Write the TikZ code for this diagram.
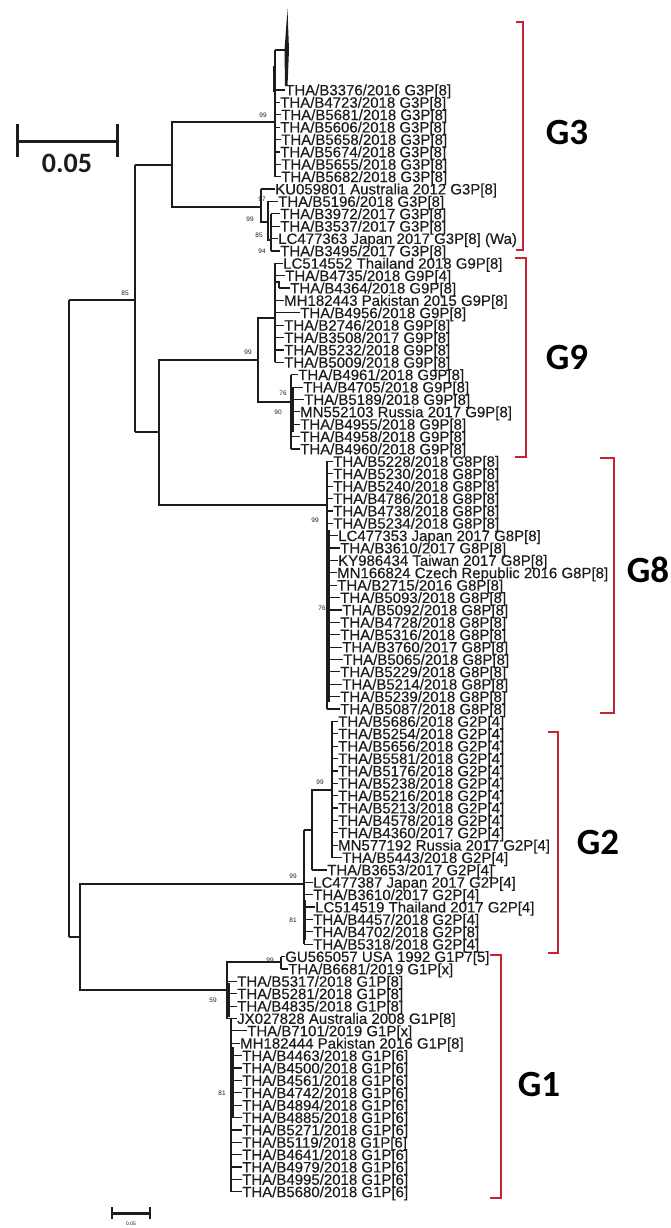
\documentclass[tikz,border=0pt]{standalone}
\usepackage{fontspec}
\setmainfont{Liberation Sans}
\newfontfamily\leaffont[FakeBold=0.35]{Liberation Sans}
\newfontfamily\carlito{Carlito}
\definecolor{ink}{HTML}{1C1C1C}
\definecolor{brk}{HTML}{C42531}
\newcommand\leafnode[5]{%
  \coordinate (#1p) at (#5,{90+12.38*#2});
  \node[leaf] (#1) at (#3,{95.35+12.38*#2}) {#4};
  \draw[tick] (#1p) -- (#1p -| #1.west);
}
\begin{document}
\begin{tikzpicture}[x=1pt,y=-1pt,
  br/.style={draw=ink,line width=1.6pt},
  thk/.style={draw=ink,line width=3pt},
  tick/.style={draw=ink,line width=1.2pt},
  leaf/.style={anchor=base west,inner sep=0pt,text=ink,text height=10.6pt,text depth=1.2pt,font=\leaffont\fontsize{15}{15}\selectfont},
  bs/.style={inner sep=0pt,text=ink,font=\fontsize{6.5}{6.5}\selectfont},
  grp/.style={anchor=base,inner sep=0pt,text=black,font=\carlito\bfseries\fontsize{37}{37}\selectfont},
  brack/.style={draw=brk,line width=2.2pt}]
\useasboundingbox (0,0) rectangle (670,1228);

% ---------- backbone ----------
\draw[br] (69,300) -- (69,937);
\draw[br] (69,300) -- (135,300);
\draw[br] (69,937) -- (80,937);
\draw[br] (135,165) -- (135,432);
\draw[br] (275,122) -| (172,207) -- (261,207);
\draw[br] (135,165) -- (172,165);
\draw[br] (135,432) -- (159,432);
\draw[br] (258,360) -| (159,505) -- (327,505);
\draw[br] (304,884) -| (80,990) -- (227,990);

% ---------- G3 ----------
\draw[br] (275,50) -- (275,176.7);
\draw[thk] (274,66) -- (274,92);
\draw[br] (275,50) -- (285,50);
\fill[ink] (284.5,50) -- (287.5,9) -- (289,50) -- (287.5,86) -- (285,86) -- cycle;
\draw[br] (261,189) -- (261,222) -- (268,222);
\draw[br] (268,201.4) -- (268,240) -- (271,240);
\draw[br,line width=2.4pt] (271,213.8) -- (271,251);

\leafnode{a0}{0}{285}{THA/B3376/2016 G3P[8]}{275}
\leafnode{a1}{1}{280}{THA/B4723/2018 G3P[8]}{275}
\leafnode{a2}{2}{281}{THA/B5681/2018 G3P[8]}{275}
\leafnode{a3}{3}{280}{THA/B5606/2018 G3P[8]}{275}
\leafnode{a4}{4}{281}{THA/B5658/2018 G3P[8]}{275}
\leafnode{a5}{5}{280}{THA/B5674/2018 G3P[8]}{275}
\leafnode{a6}{6}{281}{THA/B5655/2018 G3P[8]}{275}
\leafnode{a7}{7}{281}{THA/B5682/2018 G3P[8]}{275}
\leafnode{a8}{8}{275}{KU059801 Australia 2012 G3P[8]}{261}
\leafnode{a9}{9}{278}{THA/B5196/2018 G3P[8]}{268}
\leafnode{a10}{10}{280}{THA/B3972/2017 G3P[8]}{271}
\leafnode{a11}{11}{280}{THA/B3537/2017 G3P[8]}{271}
\leafnode{a12}{12}{278}{LC477363 Japan 2017 G3P[8] (Wa)}{271}
\leafnode{a13}{13}{280}{THA/B3495/2017 G3P[8]}{271}

% ---------- G9 ----------
\draw[br] (275,318) -| (258,402) -- (291,402);
\draw[br] (275,263.3) -- (275,362.4);
\draw[br,line width=2.6pt] (275,263.3) -- (275,300);
\draw[tick] (276,282) -- (279,282) -- (279,288.1);
\draw[br] (291,374.7) -- (291,449);
\draw[br,line width=3.2pt] (292,388) -- (292,432);

\leafnode{b14}{14}{283}{LC514552 Thailand 2018 G9P[8]}{275}
\leafnode{b15}{15}{285}{THA/B4735/2018 G9P[4]}{275}
\leafnode{b16}{16}{290}{THA/B4364/2018 G9P[8]}{279}
\leafnode{b17}{17}{284}{MH182443 Pakistan 2015 G9P[8]}{275}
\leafnode{b18}{18}{300}{THA/B4956/2018 G9P[8]}{275}
\leafnode{b19}{19}{284}{THA/B2746/2018 G9P[8]}{275}
\leafnode{b20}{20}{284}{THA/B3508/2017 G9P[8]}{275}
\leafnode{b21}{21}{284}{THA/B5232/2018 G9P[8]}{275}
\leafnode{b22}{22}{284}{THA/B5009/2018 G9P[8]}{275}
\leafnode{b23}{23}{298}{THA/B4961/2018 G9P[8]}{291}
\leafnode{b24}{24}{303}{THA/B4705/2018 G9P[8]}{291}
\leafnode{b25}{25}{304}{THA/B5189/2018 G9P[8]}{291}
\leafnode{b26}{26}{300}{MN552103 Russia 2017 G9P[8]}{291}
\leafnode{b27}{27}{300}{THA/B4955/2018 G9P[8]}{291}
\leafnode{b28}{28}{300}{THA/B4958/2018 G9P[8]}{291}
\leafnode{b29}{29}{300}{THA/B4960/2018 G9P[8]}{291}

% ---------- G8 ----------
\draw[br] (327,461.4) -- (327,709);
\draw[br,line width=2.8pt] (329,530) -- (329,702);

\leafnode{c30}{30}{333}{THA/B5228/2018 G8P[8]}{327}
\leafnode{c31}{31}{333}{THA/B5230/2018 G8P[8]}{327}
\leafnode{c32}{32}{333}{THA/B5240/2018 G8P[8]}{327}
\leafnode{c33}{33}{333}{THA/B4786/2018 G8P[8]}{327}
\leafnode{c34}{34}{333}{THA/B4738/2018 G8P[8]}{327}
\leafnode{c35}{35}{333}{THA/B5234/2018 G8P[8]}{327}
\leafnode{c36}{36}{338}{LC477353 Japan 2017 G8P[8]}{327}
\leafnode{c37}{37}{340}{THA/B3610/2017 G8P[8]}{327}
\leafnode{c38}{38}{338}{KY986434 Taiwan 2017 G8P[8]}{327}
\leafnode{c39}{39}{337}{MN166824 Czech Republic 2016 G8P[8]}{327}
\leafnode{c40}{40}{337}{THA/B2715/2016 G8P[8]}{327}
\leafnode{c41}{41}{340}{THA/B5093/2018 G8P[8]}{327}
\leafnode{c42}{42}{342}{THA/B5092/2018 G8P[8]}{327}
\leafnode{c43}{43}{340}{THA/B4728/2018 G8P[8]}{327}
\leafnode{c44}{44}{340}{THA/B5316/2018 G8P[8]}{327}
\leafnode{c45}{45}{342}{THA/B3760/2017 G8P[8]}{327}
\leafnode{c46}{46}{343}{THA/B5065/2018 G8P[8]}{327}
\leafnode{c47}{47}{340}{THA/B5229/2018 G8P[8]}{327}
\leafnode{c48}{48}{342}{THA/B5214/2018 G8P[8]}{327}
\leafnode{c49}{49}{340}{THA/B5239/2018 G8P[8]}{327}
\leafnode{c50}{50}{340}{THA/B5087/2018 G8P[8]}{327}

% ---------- G2 ----------
\draw[br] (304,830) -- (304,944.2);
\draw[br,line width=2.6pt] (305,900) -- (305,940);
\draw[br] (304,830) -- (312,830);
\draw[br] (332,790) -| (312,869.9);
\draw[br] (332,721.4) -- (332,857.6);

\leafnode{d51}{51}{338}{THA/B5686/2018 G2P[4]}{332}
\leafnode{d52}{52}{338}{THA/B5254/2018 G2P[4]}{332}
\leafnode{d53}{53}{338}{THA/B5656/2018 G2P[4]}{332}
\leafnode{d54}{54}{338}{THA/B5581/2018 G2P[4]}{332}
\leafnode{d55}{55}{338}{THA/B5176/2018 G2P[4]}{332}
\leafnode{d56}{56}{338}{THA/B5238/2018 G2P[4]}{332}
\leafnode{d57}{57}{338}{THA/B5216/2018 G2P[4]}{332}
\leafnode{d58}{58}{338}{THA/B5213/2018 G2P[4]}{332}
\leafnode{d59}{59}{338}{THA/B4578/2018 G2P[4]}{332}
\leafnode{d60}{60}{338}{THA/B4360/2017 G2P[4]}{332}
\leafnode{d61}{61}{338}{MN577192 Russia 2017 G2P[4]}{332}
\leafnode{d62}{62}{342}{THA/B5443/2018 G2P[4]}{332}
\leafnode{d63}{63}{327}{THA/B3653/2017 G2P[4]}{312}
\leafnode{d64}{64}{313}{LC477387 Japan 2017 G2P[4]}{304}
\leafnode{d65}{65}{313}{THA/B3610/2017 G2P[4]}{304}
\leafnode{d66}{66}{315}{LC514519 Thailand 2017 G2P[4]}{304}
\leafnode{d67}{67}{313}{THA/B4457/2018 G2P[4]}{304}
\leafnode{d68}{68}{313}{THA/B4702/2018 G2P[8]}{304}
\leafnode{d69}{69}{313}{THA/B5318/2018 G2P[4]}{304}

% ---------- G1 ----------
\draw[br] (281,962) -| (227,1018.5) -| (231,1191.8);
\draw[thk] (228.5,983) -- (228.5,1017);
\draw[br,line width=4pt] (232,1047) -- (232,1117);
\draw[br] (281,956.6) -- (281,969);

\leafnode{e70}{70}{285}{GU565057 USA 1992 G1P7[5]}{281}
\leafnode{e71}{71}{288}{THA/B6681/2019 G1P[x]}{281}
\leafnode{e72}{72}{237}{THA/B5317/2018 G1P[8]}{227}
\leafnode{e73}{73}{237}{THA/B5281/2018 G1P[8]}{227}
\leafnode{e74}{74}{237}{THA/B4835/2018 G1P[8]}{227}
\leafnode{e75}{75}{237}{JX027828 Australia 2008 G1P[8]}{227}
\leafnode{e76}{76}{247}{THA/B7101/2019 G1P[x]}{231}
\leafnode{e77}{77}{240}{MH182444 Pakistan 2016 G1P[8]}{231}
\leafnode{e78}{78}{242}{THA/B4463/2018 G1P[6]}{231}
\leafnode{e79}{79}{242}{THA/B4500/2018 G1P[6]}{231}
\leafnode{e80}{80}{242}{THA/B4561/2018 G1P[6]}{231}
\leafnode{e81}{81}{242}{THA/B4742/2018 G1P[6]}{231}
\leafnode{e82}{82}{242}{THA/B4894/2018 G1P[6]}{231}
\leafnode{e83}{83}{242}{THA/B4885/2018 G1P[6]}{231}
\leafnode{e84}{84}{242}{THA/B5271/2018 G1P[6]}{231}
\leafnode{e85}{85}{242}{THA/B5119/2018 G1P[6]}{231}
\leafnode{e86}{86}{242}{THA/B4641/2018 G1P[6]}{231}
\leafnode{e87}{87}{242}{THA/B4979/2018 G1P[6]}{231}
\leafnode{e88}{88}{242}{THA/B4995/2018 G1P[6]}{231}
\leafnode{e89}{89}{242}{THA/B5680/2018 G1P[6]}{231}

% ---------- bootstrap values ----------
\node[bs] (s1) at (263,115) {99};
\node[bs] (s2) at (262,199) {97};
\node[bs] (s3) at (250,219) {99};
\node[bs] (s4) at (259,235) {85};
\node[bs] (s5) at (262,251) {94};
\node[bs] (s6) at (125,293) {85};
\node[bs] (s7) at (248,352) {99};
\node[bs] (s8) at (283,393) {76};
\node[bs] (s9) at (278,412) {90};
\node[bs] (s10) at (315,520) {99};
\node[bs] (s11) at (322,608) {76};
\node[bs] (s12) at (320,782) {99};
\node[bs] (s13) at (293,876) {99};
\node[bs] (s14) at (293,920) {81};
\node[bs] (s15) at (270,960) {99};
\node[bs] (s16) at (213,1000) {59};
\node[bs] (s17) at (222,1093) {81};

% ---------- scale bars ----------
\coordinate (sbl) at (17,141);
\coordinate (sbr) at (117,141);
\draw[ink,line width=3pt] (sbl) -- (sbr);
\draw[ink,line width=3pt] ([yshift=-16pt]sbl) -- ([yshift=17pt]sbl);
\draw[ink,line width=3pt] ([yshift=-16pt]sbr) -- ([yshift=17pt]sbr);
\node[anchor=base,inner sep=0pt,text=ink,font=\carlito\bfseries\fontsize{28}{28}\selectfont] (sbt) at (67,172) {0.05};

\coordinate (sb2l) at (112,1213);
\coordinate (sb2r) at (150,1213);
\draw[ink,line width=3pt] (sb2l) -- (sb2r);
\draw[ink,line width=2.5pt] ([yshift=-6pt]sb2l) -- ([yshift=6pt]sb2l);
\draw[ink,line width=2.5pt] ([yshift=-6pt]sb2r) -- ([yshift=6pt]sb2r);
\node[inner sep=0pt,text=ink,font=\fontsize{5}{5}\selectfont] (sb2t) at (131,1224) {0.05};

% ---------- group brackets ----------
\draw[brack] (516,22) -- (523,22) -- (523,250) -- (516,250);
\draw[brack] (515,258) -- (526,258) -- (526,457) -- (515,457);
\draw[brack] (600,458) -- (614,458) -- (614,713) -- (600,713);
\draw[brack] (548,732) -- (558,732) -- (558,953) -- (548,953);
\draw[brack] (490,955) -- (501,955) -- (501,1198) -- (490,1198);

\node[grp] (g3) at (567,144) {G3};
\node[grp] (g9) at (567,369) {G9};
\node[grp] (g8) at (648,582) {G8};
\node[grp] (g2) at (598,854) {G2};
\node[grp] (g1) at (539,1096) {G1};
\end{tikzpicture}
\end{document}
